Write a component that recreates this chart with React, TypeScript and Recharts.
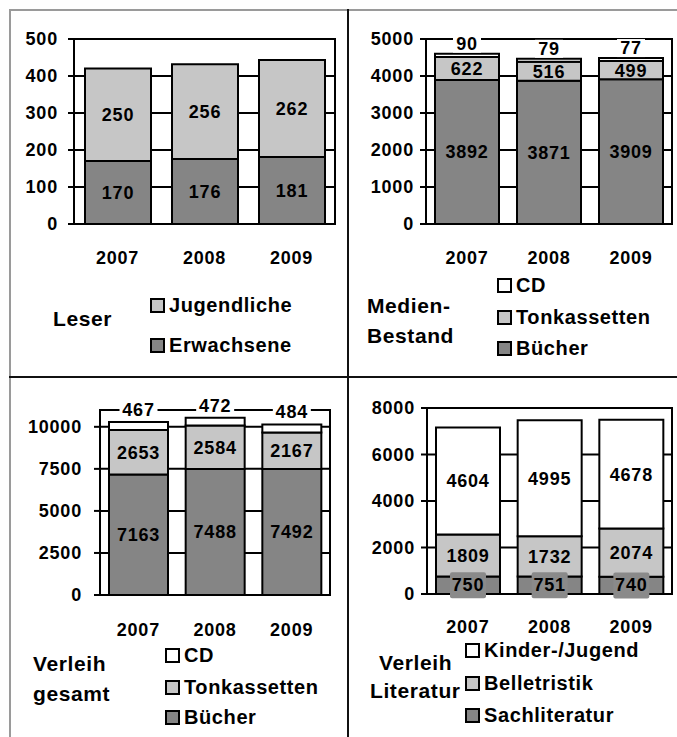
import React from 'react';
import { BarChart, Bar, XAxis, YAxis, CartesianGrid, LabelList, ReferenceArea } from 'recharts';

const years = ['2007', '2008', '2009'];

const leserErwachsene = [170, 176, 181];
const leserJugendliche = [250, 256, 262];
const leserTicks = [0, 100, 200, 300, 400, 500];

const bestandBuecher = [3892, 3871, 3909];
const bestandTonkassetten = [622, 516, 499];
const bestandCD = [90, 79, 77];
const bestandTicks = [0, 1000, 2000, 3000, 4000, 5000];

const verleihBuecher = [7163, 7488, 7492];
const verleihTonkassetten = [2653, 2584, 2167];
const verleihCD = [467, 472, 484];
const verleihTicks = [0, 2500, 5000, 7500, 10000];

const litSach = [750, 751, 740];
const litBelletristik = [1809, 1732, 2074];
const litKinder = [4604, 4995, 4678];
const litTicks = [0, 2000, 4000, 6000, 8000];

const DARK = '#858585';
const LIGHT = '#c6c6c6';
const WHITE = '#ffffff';
const FONT = '"Liberation Sans", Arial, Helvetica, sans-serif';

const leserData = years.map((y, i) => ({ year: y, erw: leserErwachsene[i], jug: leserJugendliche[i] }));
const bestandData = years.map((y, i) => ({ year: y, b: bestandBuecher[i], t: bestandTonkassetten[i], c: bestandCD[i] }));
const verleihData = years.map((y, i) => ({ year: y, b: verleihBuecher[i], t: verleihTonkassetten[i], c: verleihCD[i] }));
const litData = years.map((y, i) => ({ year: y, s: litSach[i], b: litBelletristik[i], k: litKinder[i] }));

const tickStyle: any = { fill: '#000', fontSize: 18, fontWeight: 700, fontFamily: FONT, letterSpacing: 0.8 };
const labelProps: any = { fill: '#000', fontSize: 18, fontWeight: 700, fontFamily: FONT, letterSpacing: 0.8 };
const line = { stroke: '#000', strokeWidth: 2 };

const topLabel = (off: number, w: number) => (props: any) => {
  const { x, y, width, value } = props;
  const cx = Number(x) + Number(width) / 2;
  const cy = Number(y) - off;
  return (
    <g>
      <rect x={cx - w / 2} y={cy - 9} width={w} height={18} fill="#fff" />
      <text x={cx} y={cy} textAnchor="middle" dominantBaseline="central" {...labelProps}>{value}</text>
    </g>
  );
};

const boxLabel = (props: any) => {
  const { x, y, width, height, value } = props;
  const cx = Number(x) + Number(width) / 2;
  const cy = Number(y) + Number(height) / 2;
  return (
    <g>
      <rect x={cx - 18} y={cy - 13} width={36} height={26} fill="#8a8a8a" rx={2} />
      <text x={cx} y={cy} textAnchor="middle" dominantBaseline="central" {...labelProps}>{value}</text>
    </g>
  );
};

function Txt({ x, cy, size = 20, children }: any) {
  return (
    <div style={{ position: 'absolute', left: x, top: cy, transform: 'translateY(-50%)', fontFamily: FONT, fontWeight: 700, fontSize: size, lineHeight: 1, letterSpacing: 0.6, color: '#000', whiteSpace: 'nowrap' }}>
      {children}
    </div>
  );
}

function Item({ x, cy, color, label }: any) {
  return (
    <>
      <div style={{ position: 'absolute', left: x, top: cy - 7, width: 11, height: 11, border: '2px solid #000', background: color }} />
      <Txt x={x + 19} cy={cy}>{label}</Txt>
    </>
  );
}

export default function App() {
  return (
    <div style={{ position: 'absolute', left: 0, top: 0, width: 677, height: 737, background: '#fff', overflow: 'hidden' }}>
      {/* outer frame and dividers */}
      <div style={{ position: 'absolute', left: 9, top: 9, width: 680, height: 2, background: '#9a9a9a' }} />
      <div style={{ position: 'absolute', left: 9, top: 9, width: 2, height: 740, background: '#9a9a9a' }} />
      <div style={{ position: 'absolute', left: 347, top: 9, width: 2, height: 740, background: '#111' }} />
      <div style={{ position: 'absolute', left: 9, top: 376, width: 680, height: 2, background: '#111' }} />

      {/* Panel 1: Leser */}
      <div style={{ position: 'absolute', left: 0, top: 0 }}>
        <BarChart width={340} height={280} data={leserData} margin={{ top: 39, right: 5, left: 0, bottom: 0 }} style={{ fontFamily: FONT }}>
          <CartesianGrid vertical={false} stroke="#000" strokeWidth={2} />
          <XAxis dataKey="year" axisLine={line} tickLine={false} tickSize={0} tickMargin={27} height={56} tick={tickStyle} />
          <YAxis type="number" domain={[0, 500]} ticks={leserTicks} interval={0} width={74} axisLine={line} tickLine={line} tickSize={6} tickMargin={10} tick={tickStyle} />
          <ReferenceArea y1={0} y2={500} fill="none" stroke="#000" strokeWidth={2} />
          <Bar dataKey="erw" stackId="a" fill={DARK} stroke="#000" strokeWidth={2} barSize={66} isAnimationActive={false}>
            <LabelList dataKey="erw" position="center" {...labelProps} />
          </Bar>
          <Bar dataKey="jug" stackId="a" fill={LIGHT} stroke="#000" strokeWidth={2} barSize={66} isAnimationActive={false}>
            <LabelList dataKey="jug" position="center" {...labelProps} />
          </Bar>
        </BarChart>
      </div>
      <Txt x={53} cy={318} size={21}>Leser</Txt>
      <Item x={150} cy={305} color={LIGHT} label="Jugendliche" />
      <Item x={150} cy={345} color={DARK} label="Erwachsene" />

      {/* Panel 2: Medien-Bestand */}
      <div style={{ position: 'absolute', left: 349, top: 0 }}>
        <BarChart width={328} height={280} data={bestandData} margin={{ top: 39, right: 5, left: 0, bottom: 0 }} style={{ fontFamily: FONT }}>
          <CartesianGrid vertical={false} stroke="#000" strokeWidth={2} />
          <XAxis dataKey="year" axisLine={line} tickLine={false} tickSize={0} tickMargin={27} height={56} tick={tickStyle} />
          <YAxis type="number" domain={[0, 5000]} ticks={bestandTicks} interval={0} width={77} axisLine={line} tickLine={line} tickSize={6} tickMargin={6} tick={tickStyle} />
          <ReferenceArea y1={0} y2={5000} fill="none" stroke="#000" strokeWidth={2} />
          <Bar dataKey="b" stackId="a" fill={DARK} stroke="#000" strokeWidth={2} barSize={64} isAnimationActive={false}>
            <LabelList dataKey="b" position="center" {...labelProps} />
          </Bar>
          <Bar dataKey="t" stackId="a" fill={LIGHT} stroke="#000" strokeWidth={2} barSize={64} isAnimationActive={false}>
            <LabelList dataKey="t" position="center" {...labelProps} />
          </Bar>
          <Bar dataKey="c" stackId="a" fill={WHITE} stroke="#000" strokeWidth={2} barSize={64} isAnimationActive={false}>
            <LabelList dataKey="c" content={topLabel(10, 28)} />
          </Bar>
        </BarChart>
      </div>
      <Txt x={367} cy={305} size={21}>Medien-</Txt>
      <Txt x={367} cy={335} size={21}>Bestand</Txt>
      <Item x={497} cy={285} color={WHITE} label="CD" />
      <Item x={497} cy={317} color={LIGHT} label="Tonkassetten" />
      <Item x={497} cy={348} color={DARK} label="Bücher" />

      {/* Panel 3: Verleih gesamt */}
      <div style={{ position: 'absolute', left: 0, top: 378 }}>
        <BarChart width={340} height={280} data={verleihData} margin={{ top: 32, right: 10, left: 0, bottom: 0 }} style={{ fontFamily: FONT }}>
          <CartesianGrid vertical={false} stroke="#000" strokeWidth={2} />
          <XAxis dataKey="year" axisLine={line} tickLine={false} tickSize={0} tickMargin={28} height={63} tick={tickStyle} />
          <YAxis type="number" domain={[0, 11000]} ticks={verleihTicks} interval={0} width={100} axisLine={line} tickLine={line} tickSize={6} tickMargin={12} tick={tickStyle} />
          <ReferenceArea y1={0} y2={11000} fill="none" stroke="#000" strokeWidth={2} />
          <Bar dataKey="b" stackId="a" fill={DARK} stroke="#000" strokeWidth={2} barSize={59} isAnimationActive={false}>
            <LabelList dataKey="b" position="center" {...labelProps} />
          </Bar>
          <Bar dataKey="t" stackId="a" fill={LIGHT} stroke="#000" strokeWidth={2} barSize={59} isAnimationActive={false}>
            <LabelList dataKey="t" position="center" {...labelProps} />
          </Bar>
          <Bar dataKey="c" stackId="a" fill={WHITE} stroke="#000" strokeWidth={2} barSize={59} isAnimationActive={false}>
            <LabelList dataKey="c" content={topLabel(12, 38)} />
          </Bar>
        </BarChart>
      </div>
      <Txt x={33} cy={663} size={21}>Verleih</Txt>
      <Txt x={33} cy={693} size={21}>gesamt</Txt>
      <Item x={165} cy={655} color={WHITE} label="CD" />
      <Item x={165} cy={687} color={LIGHT} label="Tonkassetten" />
      <Item x={165} cy={717} color={DARK} label="Bücher" />

      {/* Panel 4: Verleih Literatur */}
      <div style={{ position: 'absolute', left: 349, top: 378 }}>
        <BarChart width={328} height={280} data={litData} margin={{ top: 30, right: 5, left: 0, bottom: 0 }} style={{ fontFamily: FONT }}>
          <CartesianGrid vertical={false} stroke="#000" strokeWidth={2} />
          <XAxis dataKey="year" axisLine={line} tickLine={false} tickSize={0} tickMargin={26} height={64} tick={tickStyle} />
          <YAxis type="number" domain={[0, 8000]} ticks={litTicks} interval={0} width={78} axisLine={line} tickLine={line} tickSize={6} tickMargin={6} tick={tickStyle} />
          <ReferenceArea y1={0} y2={8000} fill="none" stroke="#000" strokeWidth={2} />
          <Bar dataKey="s" stackId="a" fill={DARK} stroke="#000" strokeWidth={2} barSize={64} isAnimationActive={false}>
            <LabelList dataKey="s" content={boxLabel} />
          </Bar>
          <Bar dataKey="b" stackId="a" fill={LIGHT} stroke="#000" strokeWidth={2} barSize={64} isAnimationActive={false}>
            <LabelList dataKey="b" position="center" {...labelProps} />
          </Bar>
          <Bar dataKey="k" stackId="a" fill={WHITE} stroke="#000" strokeWidth={2} barSize={64} isAnimationActive={false}>
            <LabelList dataKey="k" position="center" {...labelProps} />
          </Bar>
        </BarChart>
      </div>
      <Txt x={379} cy={662} size={21}>Verleih</Txt>
      <Txt x={370} cy={690} size={21}>Literatur</Txt>
      <Item x={465} cy={650} color={WHITE} label="Kinder-/Jugend" />
      <Item x={465} cy={683} color={LIGHT} label="Belletristik" />
      <Item x={465} cy={715} color={DARK} label="Sachliteratur" />
    </div>
  );
}
